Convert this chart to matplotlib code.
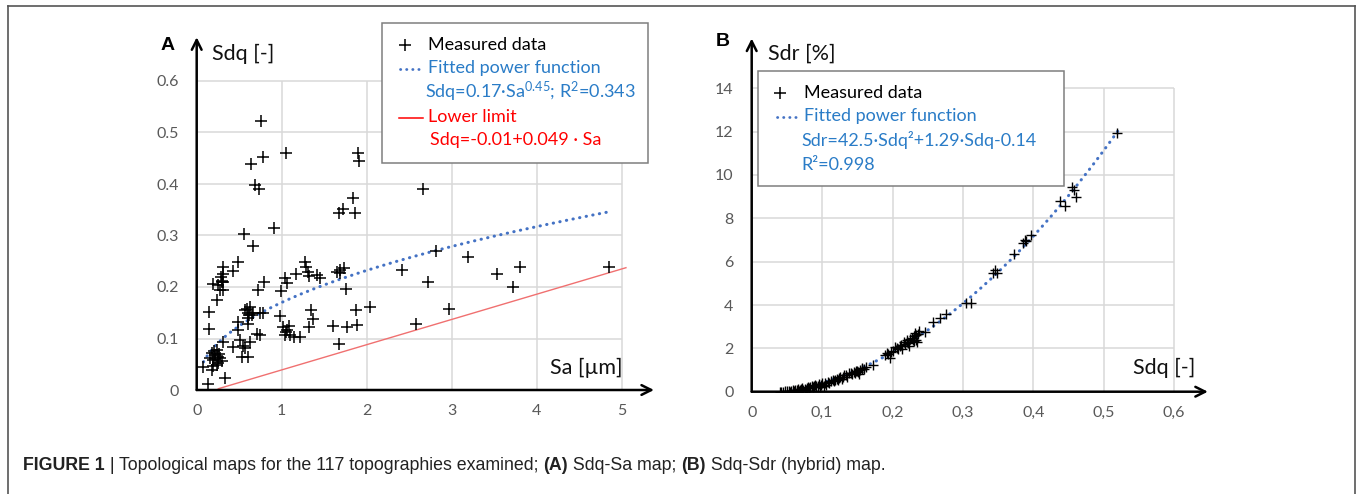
import numpy as np
import matplotlib
matplotlib.use("Agg")
import matplotlib.pyplot as plt
from matplotlib.lines import Line2D
from matplotlib.patches import Rectangle

W, H = 1357, 494
plt.rcParams['font.family'] = ['Lato', 'DejaVu Sans']
plt.rcParams['mathtext.fontset'] = 'custom'
plt.rcParams['mathtext.rm'] = 'Lato'
plt.rcParams['mathtext.it'] = 'Lato:italic'
plt.rcParams['mathtext.bf'] = 'Lato:bold'

# ---------------- data: panel A (Sa vs Sdq) ----------------
A_sa = [0.756, 0.776, 0.635, 1.05, 1.894, 1.91, 0.686, 0.73, 1.843, 1.674, 1.725, 1.858, 0.913, 0.56, 0.666, 2.666, 2.82,
        3.195, 2.41, 2.725, 3.53, 3.80, 3.718, 4.85, 2.968, 2.58, 2.04,
        1.274, 1.29, 1.31, 1.17, 1.32, 1.41, 1.45, 1.647, 1.686, 1.73, 1.69, 1.756, 1.87, 1.345, 1.37, 1.325, 1.6, 1.765,
        1.88, 1.678, 1.215, 1.04, 1.06, 0.99, 0.98, 1.02, 1.06, 1.04, 1.10, 1.08, 1.14, 1.05,
        0.49, 0.43, 0.313, 0.306, 0.294, 0.313, 0.195, 0.254, 0.274, 0.313, 0.235, 0.148, 0.148, 0.79, 0.725, 0.568,
        0.627, 0.607, 0.647, 0.745, 0.49, 0.607, 0.49, 0.706, 0.745, 0.51, 0.43, 0.54, 0.568, 0.627, 0.529, 0.607,
        0.313, 0.235, 0.176, 0.215, 0.274, 0.195, 0.254, 0.195, 0.07, 0.176, 0.333, 0.137, 0.294, 0.156, 0.235, 0.784,
        0.59, 0.62, 0.26, 0.22, 0.30, 0.28, 0.60, 0.66, 0.20, 0.25]
A_sdq = [0.522, 0.453, 0.439, 0.46, 0.461, 0.445, 0.399, 0.39, 0.372, 0.344, 0.351, 0.344, 0.315, 0.303, 0.280, 0.390, 0.269,
         0.258, 0.233, 0.210, 0.225, 0.239, 0.200, 0.239, 0.157, 0.128, 0.161,
         0.249, 0.239, 0.230, 0.225, 0.222, 0.223, 0.217, 0.230, 0.233, 0.236, 0.228, 0.197, 0.155, 0.155, 0.137, 0.123,
         0.124, 0.123, 0.126, 0.089, 0.102, 0.217, 0.207, 0.193, 0.143, 0.123, 0.117, 0.107, 0.107, 0.124, 0.103, 0.112,
         0.249, 0.232, 0.239, 0.225, 0.212, 0.210, 0.205, 0.204, 0.194, 0.194, 0.175, 0.152, 0.118, 0.210, 0.194, 0.155,
         0.162, 0.150, 0.146, 0.150, 0.133, 0.128, 0.117, 0.108, 0.107, 0.097, 0.084, 0.085, 0.081, 0.094, 0.065, 0.065,
         0.094, 0.078, 0.071, 0.068, 0.062, 0.058, 0.052, 0.047, 0.044, 0.039, 0.024, 0.012, 0.056, 0.062, 0.049, 0.149,
         0.158, 0.145, 0.070, 0.060, 0.210, 0.220, 0.140, 0.150, 0.075, 0.065]

# fitted power function and lower limit (coefficients from legend)
A_fit_coef, A_fit_exp = 0.17, 0.45
A_fit_range = [0.08, 4.82]
A_low_intercept, A_low_slope = -0.01, 0.049
A_low_range = [0.254, 5.05]

# ---------------- data: panel B (Sdq vs Sdr) ----------------
B_sdq = [0.040, 0.045, 0.050, 0.053, 0.056, 0.058, 0.060, 0.062, 0.064, 0.066, 0.068, 0.070, 0.072, 0.075, 0.078,
         0.080, 0.083, 0.085, 0.088, 0.090, 0.092, 0.095, 0.098, 0.100, 0.102, 0.104,
         0.108, 0.112, 0.115, 0.118, 0.121, 0.124, 0.126, 0.129, 0.131, 0.134, 0.138, 0.141, 0.145, 0.148, 0.150, 0.152,
         0.154, 0.156, 0.157, 0.159, 0.162, 0.173,
         0.190, 0.192, 0.194, 0.196, 0.198, 0.200, 0.204, 0.206, 0.208, 0.210, 0.212, 0.214, 0.216, 0.218, 0.220, 0.221,
         0.223, 0.225, 0.227, 0.229, 0.230, 0.231, 0.232, 0.233, 0.234, 0.235, 0.236, 0.237, 0.246, 0.258, 0.267, 0.276,
         0.305, 0.312, 0.343, 0.346, 0.348, 0.372, 0.386, 0.388, 0.390, 0.397, 0.438, 0.445, 0.4545, 0.458, 0.460, 0.519,
         0.042, 0.047, 0.055, 0.061, 0.067, 0.073, 0.077, 0.082, 0.087, 0.094, 0.097, 0.105, 0.110, 0.117, 0.123, 0.128,
         0.136, 0.143, 0.147, 0.151, 0.222]
B_sdr = [0.0, 0.0, 0.02, 0.05, 0.03, 0.08, 0.05, 0.10, 0.08, 0.12, 0.10, 0.13, 0.15, 0.12, 0.17,
         0.20, 0.22, 0.25, 0.28, 0.30, 0.26, 0.35, 0.32, 0.38, 0.28, 0.40,
         0.45, 0.50, 0.55, 0.52, 0.58, 0.62, 0.68, 0.70, 0.75, 0.78, 0.85, 0.88, 0.92, 0.95, 0.97, 0.82,
         1.00, 1.05, 1.10, 1.07, 1.12, 1.22,
         1.70, 1.80, 1.75, 1.55, 1.85, 1.90, 2.05, 2.00, 1.95, 2.10, 2.15, 1.95, 2.28, 2.20, 2.30, 2.38,
         2.10, 2.45, 2.50, 2.40, 2.35, 2.55, 2.70, 2.60, 2.40, 2.30, 2.65, 2.80, 2.75, 3.20, 3.40, 3.60,
         4.10, 4.10, 5.50, 5.60, 5.50, 6.35, 6.85, 7.00, 6.95, 7.25, 8.80, 8.55, 9.46, 9.30, 9.00, 11.95,
         0.0, 0.02, 0.0, 0.0, 0.05, 0.10, 0.10, 0.15, 0.20, 0.25, 0.22, 0.33, 0.42, 0.48, 0.55, 0.60,
         0.70, 0.82, 0.85, 0.90, 2.25]
B_fit_coefs = [42.5, 1.29, -0.14]
B_fit_range = [0.06, 0.52]

A_xticks = [0, 1, 2, 3, 4, 5]
A_xticklabels = ['0', '1', '2', '3', '4', '5']
A_yticks = [0, 0.1, 0.2, 0.3, 0.4, 0.5, 0.6]
A_yticklabels = ['0', '0.1', '0.2', '0.3', '0.4', '0.5', '0.6']
B_xticks = [0, 0.1, 0.2, 0.3, 0.4, 0.5, 0.6]
B_xticklabels = ['0', '0,1', '0,2', '0,3', '0,4', '0,5', '0,6']
B_yticks = [0, 2, 4, 6, 8, 10, 12, 14]
B_yticklabels = ['0', '2', '4', '6', '8', '10', '12', '14']

BLUE_LINE = '#4472c4'
BLUE_TXT = '#2a7cc7'
RED_LINE = '#f07070'
RED_TXT = '#ff0000'
GRID = '#d9d9d9'
TICK = '#595959'
LEG_FS = 13

fig = plt.figure(figsize=(W / 100, H / 100), dpi=100)


def fx(x):
    return x / W


def fy(y):
    return 1 - y / H


def make_axes(x0, y0, xmax, ymax, sx, sy):
    # x0,y0: pixel position of data origin; sx, sy: pixels per data unit
    ax = fig.add_axes([fx(x0), (H - y0) / H, xmax * sx / W, ymax * sy / H])
    ax.set_xlim(0, xmax)
    ax.set_ylim(0, ymax)
    for s in ax.spines.values():
        s.set_visible(False)
    ax.patch.set_alpha(0)
    return ax


def style_axes(ax, xt, xtl, yt, ytl, gx, gy, arrow_x, arrow_y):
    ax.vlines(xt[1:], 0, gy, color=GRID, lw=1.1, zorder=0)
    ax.hlines(yt[1:], 0, gx, color=GRID, lw=1.1, zorder=0)
    ax.set_xticks(xt)
    ax.set_xticklabels(xtl)
    ax.set_yticks(yt)
    ax.set_yticklabels(ytl)
    ax.tick_params(length=0, labelsize=11.5, labelcolor=TICK)
    ax.tick_params(axis='x', pad=10)
    ax.tick_params(axis='y', pad=13)
    ax.annotate('', xy=(arrow_x, 0), xytext=(0, 0), annotation_clip=False,
                arrowprops=dict(arrowstyle='->,head_length=0.7,head_width=0.35', lw=1.8, color='black',
                                shrinkA=0, shrinkB=0), zorder=5)
    ax.annotate('', xy=(0, arrow_y), xytext=(0, 0), annotation_clip=False,
                arrowprops=dict(arrowstyle='->,head_length=0.7,head_width=0.35', lw=1.8, color='black',
                                shrinkA=0, shrinkB=0), zorder=5)


# ---------------- panel A ----------------
axA = make_axes(196.7, 390, 5.4, 0.7, 85, 515)
style_axes(axA, A_xticks, A_xticklabels, A_yticks, A_yticklabels, 5, 0.6, 5.38, 0.685)
axA.plot(A_sa, A_sdq, linestyle='none', marker='+', color='black', markersize=8, markeredgewidth=1.1, zorder=3)
xa = np.linspace(A_fit_range[0], A_fit_range[1], 200)
axA.plot(xa, A_fit_coef * xa ** A_fit_exp, color=BLUE_LINE, lw=2.2, linestyle=(0, (0.1, 2.1)),
         dash_capstyle='round', zorder=2)
xl = np.array(A_low_range)
axA.plot(xl, A_low_intercept + A_low_slope * xl, color=RED_LINE, lw=1.0, zorder=2)

# ---------------- panel B ----------------
axB = make_axes(751.7, 391.7, 0.66, 16.5, 704, 21.67)
style_axes(axB, B_xticks, B_xticklabels, B_yticks, B_yticklabels, 0.6, 14, 0.648, 16.3)
axB.plot(B_sdq, B_sdr, linestyle='none', marker='+', color='black', markersize=7.5, markeredgewidth=1.0, zorder=3)
xb = np.linspace(B_fit_range[0], B_fit_range[1], 200)
axB.plot(xb, B_fit_coefs[0] * xb ** 2 + B_fit_coefs[1] * xb + B_fit_coefs[2], color=BLUE_LINE, lw=2.2,
         linestyle=(0, (0.1, 2.1)), dash_capstyle='round', zorder=2)

# ---------------- axis titles & panel letters ----------------
fig.text(fx(211.7), fy(53.5), 'Sdq [-]', fontsize=15.5, ha='left', va='center', color='#111111')
fig.text(fx(623), fy(368), 'Sa [µm]', fontsize=15.5, ha='right', va='center', color='#111111')
fig.text(fx(768), fy(53.5), 'Sdr [%]', fontsize=15.5, ha='left', va='center', color='#111111')
fig.text(fx(1195), fy(368), 'Sdq [-]', fontsize=15.5, ha='right', va='center', color='#111111')
fig.text(fx(168), fy(45), 'A', fontsize=14, fontweight='bold', ha='center', va='center',
         family=['Liberation Sans', 'DejaVu Sans'])
fig.text(fx(723), fy(41), 'B', fontsize=14, fontweight='bold', ha='center', va='center',
         family=['Liberation Sans', 'DejaVu Sans'])


# ---------------- legends ----------------
def legend_box(x0, y0, x1, y1):
    fig.add_artist(Rectangle((fx(x0), fy(y1)), fx(x1) - fx(x0), fy(y0) - fy(y1), transform=fig.transFigure,
                             facecolor='white', edgecolor='#7f7f7f', lw=1.1, zorder=10))


def legend_plus(x, y):
    fig.add_artist(Line2D([fx(x)], [fy(y)], marker='+', color='black', markersize=8, markeredgewidth=1.1,
                          transform=fig.transFigure, zorder=11))


def legend_line(x0, x1, y, **kw):
    fig.add_artist(Line2D([fx(x0), fx(x1)], [fy(y), fy(y)], transform=fig.transFigure, zorder=11, **kw))


def legend_text(x, y, s, color):
    fig.text(fx(x), fy(y), s, fontsize=LEG_FS, color=color, ha='left', va='center', zorder=12)


legend_box(381.7, 22.7, 648, 163.3)
legend_plus(405, 45)
legend_text(428, 45, 'Measured data', 'black')
legend_line(400, 423, 69.3, color=BLUE_LINE, lw=2.0, linestyle=(0, (0.1, 2.1)), dash_capstyle='round')
legend_text(428, 68.5, 'Fitted power function', BLUE_TXT)
legend_text(425, 92, r'Sdq=0.17·Sa$^{\mathrm{0.45}}$; R$^{\mathrm{2}}$=0.343', BLUE_TXT)
legend_line(399, 423, 118.3, color=RED_TXT, lw=1.1)
legend_text(428, 117.5, 'Lower limit', RED_TXT)
legend_text(430, 140.5, 'Sdq=-0.01+0.049 · Sa', RED_TXT)

legend_box(758.3, 70.7, 1064, 186)
legend_plus(780, 92.7)
legend_text(804, 92.7, 'Measured data', 'black')
legend_line(777, 796, 116.7, color=BLUE_LINE, lw=2.0, linestyle=(0, (0.1, 2.1)), dash_capstyle='round')
legend_text(804.5, 116, 'Fitted power function', BLUE_TXT)
legend_text(801.5, 140, 'Sdr=42.5·Sdq²+1.29·Sdq-0.14', BLUE_TXT)
legend_text(801.5, 164.5, 'R²=0.998', BLUE_TXT)

# ---------------- outer frame ----------------
frame_col = '#555555'
fig.add_artist(Line2D([fx(7.5), fx(7.5)], [fy(6.5), 0], color=frame_col, lw=1.2, transform=fig.transFigure))
fig.add_artist(Line2D([fx(7.5), fx(1354.5)], [fy(6.5), fy(6.5)], color=frame_col, lw=1.2, transform=fig.transFigure))
fig.add_artist(Line2D([fx(1354.5), fx(1354.5)], [fy(6.5), 0], color=frame_col, lw=1.2, transform=fig.transFigure))

# ---------------- caption ----------------
cap_family = ['Liberation Sans Narrow', 'Liberation Sans', 'DejaVu Sans']
cap_parts = [('FIGURE 1', 'bold', '#222222'), (' | ', 'normal', '#222222'),
             ('Topological maps for the 117 topographies examined; ', 'normal', '#222222'),
             ('(A)', 'bold', '#222222'), (' Sdq-Sa map; ', 'normal', '#222222'),
             ('(B)', 'bold', '#222222'), (' Sdq-Sdr (hybrid) map.', 'normal', '#222222')]
renderer = fig.canvas.get_renderer()
xcur = 23.0
for s, wgt, col in cap_parts:
    t = fig.text(fx(xcur), fy(465), s, fontsize=12.8, fontweight=wgt, color=col, ha='left', va='center',
                 family=cap_family)
    bb = t.get_window_extent(renderer=renderer)
    xcur += bb.width

fig.savefig('out.png', dpi=100)
